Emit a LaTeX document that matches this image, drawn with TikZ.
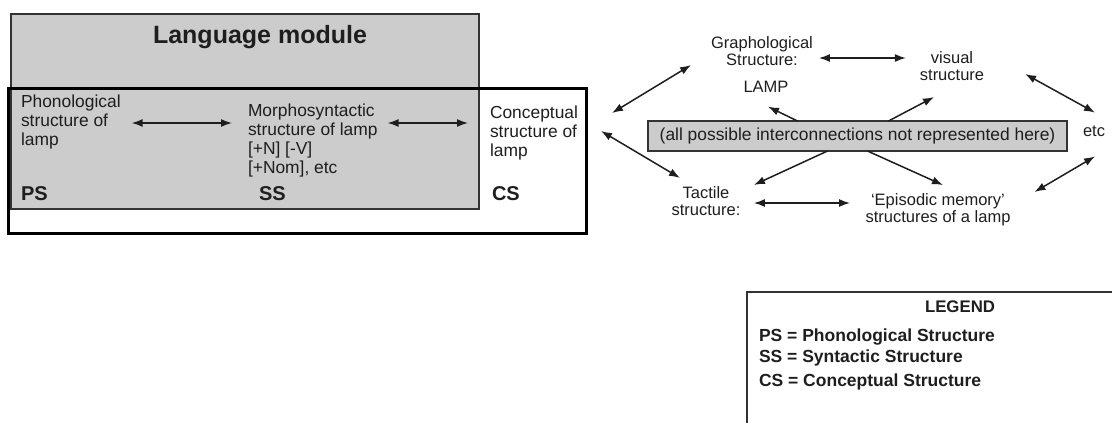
\documentclass[tikz,border=0pt]{standalone}
\usepackage{fontspec}
\setmainfont{Liberation Sans}
\usetikzlibrary{arrows.meta,calc}
\definecolor{txt}{HTML}{1E1E1E}
\definecolor{fillg}{HTML}{CCCCCC}
\definecolor{edge}{HTML}{333333}
\begin{document}
\begin{tikzpicture}[x=1pt,y=-1pt,
  every node/.style={inner sep=0pt,outer sep=0pt,text=txt},
  lbl/.style={font=\fontsize{17.4}{19}\selectfont,align=left,anchor=west},
  rlbl/.style={font=\fontsize{16.5}{17}\selectfont,align=center},
  tag/.style={font=\fontsize{20}{22}\selectfont\bfseries,anchor=west},
  dbl/.style={{Latex[length=11pt,width=8pt]}-{Latex[length=11pt,width=8pt]},line width=1.5pt,draw=txt},
  sgl/.style={-{Latex[length=11pt,width=8pt]},line width=1.5pt,draw=txt},
  leg/.style={font=\fontsize{17.5}{19}\selectfont\bfseries,anchor=west}
]
\useasboundingbox (0,0) rectangle (1112,423);

% left: language module
\node[draw=edge,fill=fillg,line width=1.2pt,minimum width=468pt,minimum height=195pt] (lm) at (245,111.5) {};
\node[draw=black,line width=3pt,minimum width=578pt,minimum height=145pt] (outer) at (297,160.5) {};
\node[font=\fontsize{25}{28}\selectfont\bfseries] (title) at (260,37) {Language module};

\node[lbl] (phon) at (21,122) {Phonological\\structure of\\lamp};
\node[lbl] (morph) at (248,140.5) {Morphosyntactic\\structure of lamp\\{}[+N] [-V]\\{}[+Nom], etc};
\node[lbl] (concept) at (490,133) {Conceptual\\structure of\\lamp};
\node[tag] (ps) at (21,194) {PS};
\node[tag] (ss) at (259,194) {SS};
\node[tag] (cs) at (492,194) {CS};

\draw[dbl] ($(phon.east)+(11,1)$) -- ($(morph.west |- phon.east)+(-16,1)$);
\draw[dbl] ($(morph.east |- phon.east)+(10,1)$) -- ($(concept.west |- phon.east)+(-22,1)$);

% right: other structures
\node[rlbl] (graph) at (762,51) {Graphological\\Structure:};
\node[rlbl] (lamp) at (766,87) {LAMP};
\node[rlbl] (visual) at (952,66) {visual\\structure};
\node[draw=edge,fill=fillg,line width=1.3pt,minimum width=419pt,minimum height=30pt,font=\fontsize{17.4}{19}\selectfont] (box) at (857.5,136) {(all possible interconnections not represented here)};
\node[rlbl] (etc) at (1094,131) {etc};
\node[rlbl] (tact) at (706,201) {Tactile\\structure:};
\node[rlbl] (epi) at (938,210) {‘Episodic memory’\\structures of a lamp};

\coordinate (toL1) at (612,113);
\coordinate (toL2) at (601,131);

\draw[dbl] (toL1) -- ($(graph.west)+(-20,14)$);
\draw[dbl] (toL2) -- ($(tact.north)+(-26,-8.5)$);
\draw[sgl] ($(box.north)+(-60,0)$) -- ($(lamp.south)+(2,14)$);
\draw[sgl] ($(box.north)+(31,0)$) -- ($(visual.south)+(-18,16.5)$);
\draw[sgl] ($(box.south)+(-30,0)$) -- ($(tact.north east)+(13.5,-1.5)$);
\draw[sgl] ($(box.south)+(10,0)$) -- ($(epi.north)+(5,-8.75)$);
\draw[dbl] ($(graph.east)+(6,7)$) -- ($(visual.west |- graph.east)+(-14,7)$);
\draw[dbl] ($(visual.east)+(41,8)$) -- ($(etc.north)+(1,-13)$);
\draw[dbl] ($(epi.east)+(24,-18)$) -- ($(etc.south)+(1,20)$);
\draw[dbl] ($(tact.east)+(13.5,2)$) -- ($(epi.west |- tact.east)+(-15.5,2)$);

% legend
\draw[line width=1.5pt,draw=edge] (747,430) -- (747,292) -- (1115,292);
\node[font=\fontsize{16.8}{18}\selectfont\bfseries] (legtitle) at (960,307) {LEGEND};
\node[leg] (l1) at (759,337) {PS = Phonological Structure};
\node[leg] (l2) at (759,358) {SS = Syntactic Structure};
\node[leg] (l3) at (759,382) {CS = Conceptual Structure};
\end{tikzpicture}
\end{document}
